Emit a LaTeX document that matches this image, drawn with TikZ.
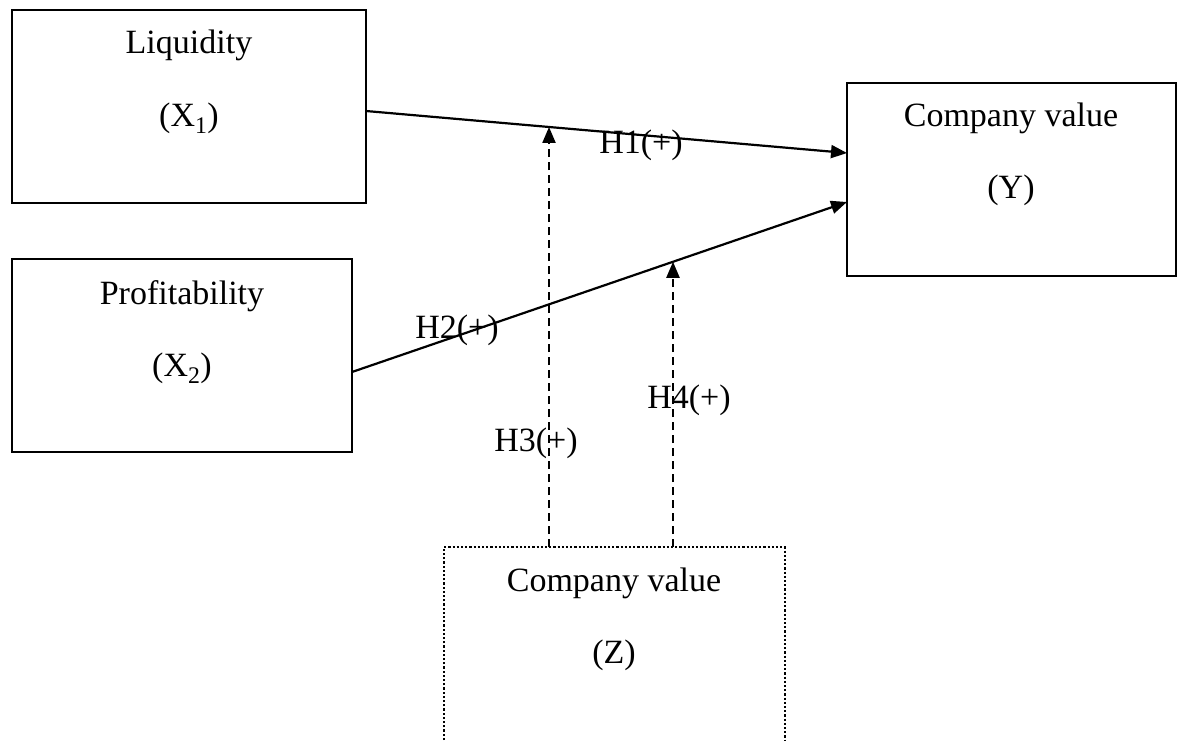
\documentclass[tikz,border=0pt]{standalone}
\usepackage{fontspec}
\setmainfont{Liberation Serif}
\usetikzlibrary{arrows.meta,calc}
\begin{document}
\begin{tikzpicture}[x=1pt,y=-1pt,
  box/.style={draw,line width=2.2pt,inner sep=0pt},
  txt/.style={font=\fontsize{34}{40}\selectfont,inner sep=0pt,anchor=base},
  arr/.style={line width=2.2pt,-{Triangle[length=16pt,width=13pt]}},
  darr/.style={line width=2.2pt,dash pattern=on 8pt off 5pt,-{Triangle[length=16pt,width=13pt]}}]
\useasboundingbox (0,0) rectangle (1187,740);
% boxes
\draw[box] (12,10) rectangle (366,203);
\draw[box] (12,259) rectangle (352,452);
\draw[box] (847,83) rectangle (1176,276);
\draw[line width=2.2pt,dotted] (444,740) -- (444,547) -- (785,547) -- (785,740);
% texts
\node[txt] (tl) at (189,53) {Liquidity};
\node[txt] (tx1) at (189,126) {(X\textsubscript{1})};
\node[txt] (tp) at (182,304) {Profitability};
\node[txt] (tx2) at (182,376) {(X\textsubscript{2})};
\node[txt] (tc) at (1011,126) {Company value};
\node[txt] (ty) at (1011,198) {(Y)};
\node[txt] (tz1) at (614,591) {Company value};
\node[txt] (tz) at (614,663) {(Z)};
% connectors
\coordinate (a1) at (366,111);
\coordinate (b1) at (847,153);
\coordinate (a2) at (352,372);
\coordinate (b2) at (847,202);
\draw[arr] (a1) -- (b1);
\draw[arr] (a2) -- (b2);
\coordinate (m1) at ($(a1)!0.3805!(b1)$);
\coordinate (m2) at ($(a2)!0.6485!(b2)$);
\coordinate (zt) at (614,547);
\draw[darr] (m1 |- zt) -- (m1);
\draw[darr] (m2 |- zt) -- (m2);
% labels
\node[txt] (h1) at (641,153) {H1(+)};
\node[txt] (h2) at (457,338) {H2(+)};
\node[txt] (h3) at (536,451) {H3(+)};
\node[txt] (h4) at (689,408) {H4(+)};
\end{tikzpicture}
\end{document}
